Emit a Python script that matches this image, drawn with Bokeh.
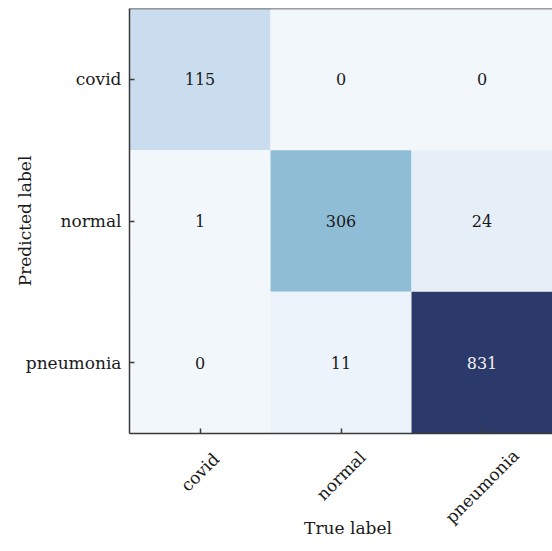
import math
from bokeh.plotting import figure
from bokeh.layouts import column
from bokeh.models import ColumnDataSource, LinearColorMapper, Span, Range1d, CustomJSTickFormatter
from bokeh.transform import transform
from bokeh.core.properties import value
from bokeh.embed import file_html
from bokeh.resources import INLINE

# ---- data ----
classes = ["covid", "normal", "pneumonia"]
# rows = predicted label, columns = true label
row_covid = [115, 0, 0]
row_normal = [1, 306, 24]
row_pneumonia = [0, 11, 831]
matrix = [row_covid, row_normal, row_pneumonia]

FONT = "DejaVu Serif"
AXIS_COLOR = "#3a3a3a"
W = 552
LEFT, TOP = 129, 8
H1, BOT1 = 439, 6          # main heat-map figure (frame bottom at 433)
H2 = 112                   # strip below holding rotated tick labels + x title

true_col, pred_col, counts = [], [], []
for pi_, pred in enumerate(classes):
    for ti, tru in enumerate(classes):
        true_col.append(tru)
        pred_col.append(pred)
        counts.append(matrix[pi_][ti])
vmax = max(counts)

# colour palette (Blues-like, matched to reference tones)
anchors = [(0.0, "#F2F7FC"), (0.03, "#E5EEF8"), (0.14, "#C9DDEE"), (0.37, "#8FBDD5"),
           (0.55, "#5E97C2"), (0.75, "#3F6DA3"), (1.0, "#2B3A6B")]

def hex2rgb(h):
    return tuple(int(h[i:i + 2], 16) for i in (1, 3, 5))

palette = []
for k in range(256):
    t = k / 255
    for (t0, c0), (t1, c1) in zip(anchors[:-1], anchors[1:]):
        if t0 <= t <= t1:
            f = (t - t0) / (t1 - t0)
            a, b = hex2rgb(c0), hex2rgb(c1)
            rgb = [round(a[j] + (b[j] - a[j]) * f) for j in range(3)]
            palette.append("#%02x%02x%02x" % tuple(rgb))
            break

mapper = LinearColorMapper(palette=palette, low=0, high=vmax)

src = ColumnDataSource(dict(
    true=true_col, pred=pred_col, count=counts,
    label=[str(c) for c in counts],
    tcolor=["#f2f2f2" if c > vmax / 2 else "#1a1a1a" for c in counts],
))

p = figure(width=W, height=H1, x_range=classes, y_range=list(reversed(classes)),
           toolbar_location=None, output_backend="svg",
           min_border_left=LEFT, min_border_right=0, min_border_top=TOP, min_border_bottom=BOT1)
p.outline_line_color = None
p.grid.grid_line_color = None

p.rect(x="true", y="pred", width=1, height=1, source=src,
       fill_color=transform("count", mapper), line_color=None)
p.text(x="true", y="pred", text="label", source=src, text_align="center",
       text_baseline="middle", text_font=value(FONT), text_font_size="16px",
       text_color="tcolor")

for ax in (p.xaxis[0], p.yaxis[0]):
    ax.level = "overlay"
    ax.axis_line_color = AXIS_COLOR
    ax.axis_line_width = 1.5
    ax.major_tick_line_color = AXIS_COLOR
    ax.major_tick_line_width = 1.5
    ax.major_tick_in = 5
    ax.major_tick_out = 0
    ax.minor_tick_line_color = None
    ax.major_label_text_font = FONT
    ax.major_label_text_font_size = "17px"
    ax.major_label_text_color = "#1a1a1a"
    ax.axis_label_text_font = FONT
    ax.axis_label_text_font_size = "17px"
    ax.axis_label_text_font_style = "normal"
    ax.axis_label_text_color = "#1a1a1a"

p.yaxis.axis_label = "Predicted label"
p.yaxis.major_label_standoff = 8
p.yaxis.axis_label_standoff = -12

p.xaxis.formatter = CustomJSTickFormatter(code="return ''")
p.xaxis.major_label_standoff = 0

# top frame line
p.add_layout(Span(location=len(classes), dimension="width",
                  line_color=AXIS_COLOR, line_width=1.5))

# strip below: rotated tick labels centred under the ticks, and the x title
p2 = figure(width=W, height=H2, x_range=p.x_range, y_range=Range1d(-H2, 0),
            toolbar_location=None, output_backend="svg",
            min_border_left=LEFT, min_border_right=0, min_border_top=0, min_border_bottom=0,
            x_axis_location=None, y_axis_location=None)
p2.outline_line_color = None
p2.grid.grid_line_color = None

tick_src = ColumnDataSource(dict(
    x=classes, text=classes,
    y=[-(9 + (10 * len(c) + 17) * 0.354) for c in classes],
))
p2.text(x="x", y="y", text="text", source=tick_src, angle=math.pi / 4,
        text_align="center", text_baseline="middle", text_font=value(FONT),
        text_font_size="17px", text_color="#1a1a1a")

title_src = ColumnDataSource(dict(x=[len(classes) / 2], y=[-88], text=["True label"]))
p2.text(x="x", y="y", text="text", source=title_src, x_offset=7,
        text_align="center", text_baseline="middle", text_font=value(FONT),
        text_font_size="17px", text_color="#1a1a1a")

layout = column(p, p2, spacing=0)
open("out.html", "w").write(file_html(layout, INLINE))
